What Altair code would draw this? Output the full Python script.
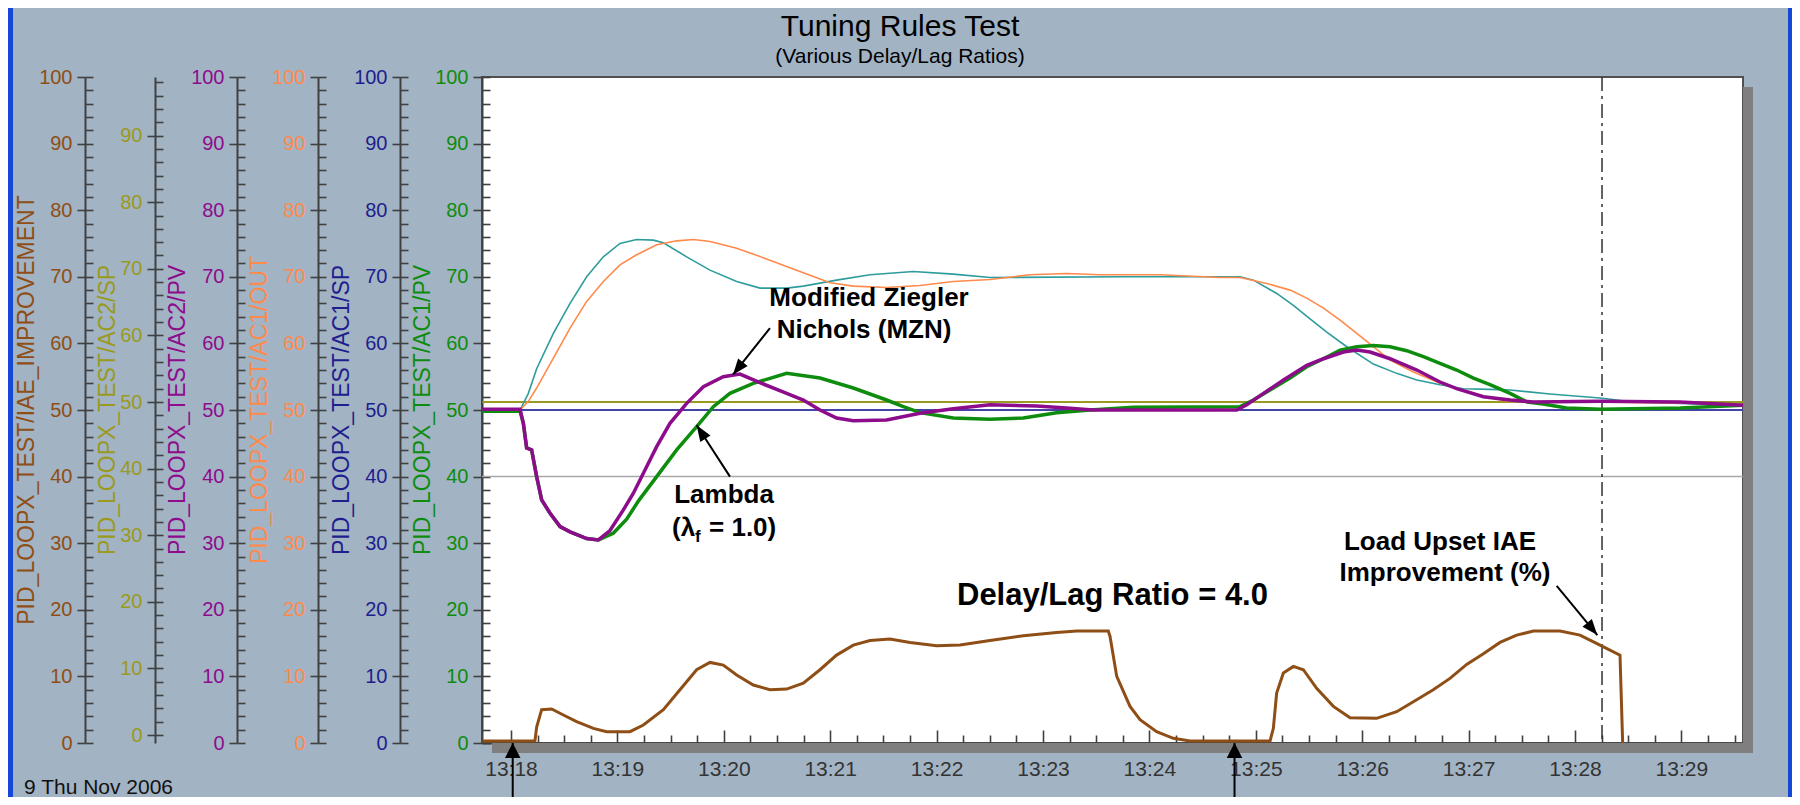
import math
import altair as alt
import pandas as pd

# ---------------- data (time = minutes after 13:18:00, value in %) ----------------
GREEN_T = [-0.27, 0.085, 0.116, 0.147, 0.194, 0.241, 0.288, 0.367, 0.461, 0.555, 0.711, 0.821, 0.961, 1.087, 1.20,
           1.369, 1.557, 1.745, 1.902, 2.058, 2.277, 2.591, 2.904, 3.217, 3.530, 3.687, 3.844, 4.157, 4.502, 4.815,
           5.128, 5.442, 5.850, 6.852, 6.978, 7.134, 7.322, 7.479, 7.636, 7.792, 7.949, 8.105, 8.262, 8.418, 8.575,
           8.731, 8.888, 9.045, 9.201, 9.39, 9.55, 9.70, 9.92, 10.24, 10.99, 11.58]
GREEN_V = [49.8, 49.8, 48.0, 44.3, 44.0, 40.0, 36.5, 34.5, 32.5, 31.7, 30.7, 30.5, 31.5, 33.6, 36.4,
           40.0, 44.0, 47.5, 50.5, 52.5, 54.0, 55.5, 54.8, 53.3, 51.5, 50.5, 49.6, 48.8, 48.6, 48.8,
           49.6, 50.0, 50.4, 50.5, 51.5, 53.0, 54.8, 56.5, 57.7, 59.0, 59.5, 59.7, 59.5, 58.9, 58.0,
           57.0, 56.0, 54.8, 53.8, 52.5, 51.2, 50.9, 50.3, 50.1, 50.3, 50.7]

PURPLE_T = [-0.27, 0.085, 0.116, 0.147, 0.194, 0.241, 0.288, 0.367, 0.461, 0.555, 0.711, 0.821, 0.930, 1.056, 1.150,
            1.244, 1.369, 1.494, 1.651, 1.808, 1.995, 2.152, 2.340, 2.591, 2.747, 2.904, 3.060, 3.217, 3.530, 3.844,
            4.157, 4.502, 4.940, 5.222, 5.473, 6.821, 6.915, 7.072, 7.260, 7.479, 7.636, 7.824, 7.949, 8.074, 8.262,
            8.513, 8.731, 8.888, 9.139, 9.390, 9.609, 10.235, 10.987, 11.58]
PURPLE_V = [50.1, 50.1, 48.0, 44.3, 44.0, 40.0, 36.5, 34.5, 32.5, 31.7, 30.7, 30.5, 31.9, 35.0, 37.5,
            40.5, 44.5, 48.0, 51.0, 53.5, 55.0, 55.4, 54.1, 52.5, 51.5, 50.0, 48.8, 48.4, 48.5, 49.5,
            50.2, 50.8, 50.6, 50.3, 50.0, 50.0, 50.8, 52.5, 54.5, 56.7, 57.7, 58.7, 59.0, 58.7, 57.7,
            56.0, 54.2, 53.2, 52.0, 51.5, 51.2, 51.3, 51.2, 50.7]

ORANGE_T = [-0.27, 0.085, 0.163, 0.241, 0.398, 0.555, 0.711, 0.868, 1.024, 1.181, 1.369, 1.557, 1.714, 1.870, 2.121,
            2.434, 2.747, 2.998, 3.217, 3.530, 3.844, 4.157, 4.502, 4.877, 5.222, 5.536, 6.100, 6.664, 6.852, 7.103,
            7.322, 7.479, 7.636, 7.792, 7.949, 8.105, 8.262, 8.481, 8.731, 8.951, 9.201, 9.390, 10.235, 11.58]
ORANGE_V = [50.0, 50.0, 51.3, 53.3, 57.8, 62.3, 66.3, 69.3, 71.8, 73.3, 74.8, 75.4, 75.6, 75.3, 74.3,
            72.5, 70.6, 69.1, 68.6, 68.4, 68.7, 69.3, 69.6, 70.3, 70.5, 70.3, 70.3, 69.9, 69.9, 69.0,
            68.0, 66.8, 65.3, 63.5, 61.5, 59.5, 57.5, 55.7, 54.0, 53.0, 51.8, 51.3, 51.2, 50.9]

TEAL_T = [-0.27, 0.085, 0.163, 0.241, 0.398, 0.555, 0.711, 0.868, 1.024, 1.181, 1.338, 1.432, 1.651, 1.870, 2.121,
          2.340, 2.591, 2.747, 3.060, 3.374, 3.781, 4.157, 4.502, 5.755, 6.852, 6.978, 7.197, 7.353, 7.510, 7.667,
          7.855, 8.105, 8.324, 8.513, 8.731, 8.951, 9.201, 9.390, 9.765, 10.235, 10.548, 11.58]
TEAL_V = [50.0, 50.0, 52.5, 56.2, 61.5, 66.0, 70.0, 73.0, 75.0, 75.6, 75.5, 75.1, 73.0, 71.0, 69.3,
          68.3, 68.3, 68.6, 69.5, 70.3, 70.8, 70.4, 69.9, 70.0, 70.0, 69.5, 67.5, 65.7, 63.7, 61.7,
          59.5, 56.9, 55.5, 54.5, 53.8, 53.2, 53.1, 53.0, 52.4, 51.8, 51.2, 50.7]

BROWN_T = [-0.27, 0.225, 0.241, 0.288, 0.382, 0.492, 0.617, 0.774, 0.899, 1.118, 1.244, 1.432, 1.588, 1.745, 1.870,
           1.995, 2.121, 2.277, 2.434, 2.591, 2.747, 2.904, 3.060, 3.217, 3.374, 3.562, 3.750, 4.000, 4.220, 4.502,
           4.815, 5.128, 5.316, 5.614, 5.630, 5.693, 5.818, 5.912, 6.068, 6.225, 6.382, 7.134, 7.165, 7.196, 7.259,
           7.353, 7.447, 7.572, 7.729, 7.886, 8.136, 8.324, 8.512, 8.668, 8.825, 8.982, 9.139, 9.295, 9.452, 9.609,
           9.859, 10.047, 10.235, 10.423, 10.448]
BROWN_V = [0.3, 0.3, 2.4, 5.0, 5.1, 4.2, 3.2, 2.2, 1.7, 1.7, 2.7, 5.0, 8.0, 11.0, 12.1,
           11.7, 10.2, 8.7, 8.0, 8.1, 9.0, 11.0, 13.2, 14.7, 15.4, 15.6, 15.1, 14.6, 14.7, 15.4,
           16.1, 16.6, 16.8, 16.8, 16.0, 10.0, 5.5, 3.5, 1.7, 0.7, 0.3, 0.3, 2.2, 7.5, 10.5,
           11.5, 11.0, 8.2, 5.5, 3.8, 3.7, 4.7, 6.5, 8.0, 9.7, 11.8, 13.4, 15.1, 16.2, 16.8,
           16.8, 16.2, 14.7, 13.2, 0.0]

SP_T = [-0.27, 11.58]
AC1_SP_V = [50.0, 50.0]      # navy, main scale
AC2_SP_V = [50.0, 50.0]      # olive, its own (offset) scale

CURSOR_T = [10.254]          # dash-dot cursor, 13:28:15
GRID_V = [40]

X_LABELS = list(range(0, 12))            # 13:18 ... 13:29
X_MINOR = [k * 0.25 for k in range(0, 47)]
Y_LABELS = list(range(0, 101, 10))
OLIVE_LABELS = list(range(0, 91, 10))
Y_MINOR = list(range(0, 101, 2))
OLIVE_MINOR = list(range(0, 99, 2))

ANNOT_TEXT = ["Modified Ziegler", "Nichols (MZN)", "Lambda", "Load Upset IAE", "Improvement (%)"]
ANNOT_T = [3.365, 3.318, 2.002, 8.731, 8.778]
ANNOT_V = [66.8, 62.0, 37.2, 30.2, 25.5]

ARROW_T_TAIL = [2.434, 2.058, 9.828]
ARROW_V_TAIL = [62.3, 40.0, 23.6]
ARROW_T_TIP = [2.086, 1.745, 10.21]
ARROW_V_TIP = [55.3, 47.7, 16.2]
EVENT_T = [0.016, 6.80]      # upset markers below the time axis

# ---------------- layout / style ----------------
W, H = 1261, 666
XMIN, XMAX = -0.2726, 11.579
FONT = "Liberation Sans, Arial, sans-serif"
BG = "#A2B3C4"
AX = "#404040"
BROWN_C, OLIVE_C, PURPLE_C = "#8E4E16", "#9A9A20", "#8C0C8C"
ORANGE_C, NAVY_C, GREEN_C = "#FF8A4C", "#1E1E8E", "#0E8C0E"
NAVY_LINE, TEAL_C = "#4444A8", "#2E9C9C"

XS = alt.Scale(domain=[XMIN, XMAX], nice=False, zero=False)
YS = alt.Scale(domain=[0, 100], nice=False, zero=False)
OLIVE_S = alt.Scale(domain=[-1.2, 98.8], nice=False, zero=False)
ONE = pd.DataFrame({"v": [50.0], "t": [5.0]})


def frame(ts, vs):
    return pd.DataFrame(list(zip(ts, vs)), columns=["t", "v"])


def X():
    return alt.X("t:Q", scale=XS, axis=None)


def Y(scale=YS):
    return alt.Y("v:Q", scale=scale, axis=None)


def line(ts, vs, color, width, scale=YS):
    return alt.Chart(frame(ts, vs)).mark_line(color=color, strokeWidth=width).encode(x=X(), y=Y(scale))


def label(text, x, y, size, color="black", angle=0, weight="normal", align="center", baseline="middle"):
    return alt.Chart(ONE).mark_text(text=text, font=FONT, fontSize=size, fontWeight=weight, color=color,
                                    angle=angle, align=align, baseline=baseline).encode(
        x=alt.value(x), y=alt.value(y))


layers = []

# frame shadow
layers.append(alt.Chart(ONE).mark_rect(color="#7F7F7F").encode(
    x=alt.value(W), x2=alt.value(W + 10), y=alt.value(10), y2=alt.value(H + 10)))
layers.append(alt.Chart(ONE).mark_rect(color="#7F7F7F").encode(
    x=alt.value(10), x2=alt.value(W + 10), y=alt.value(H), y2=alt.value(H + 10)))
# window borders
layers.append(alt.Chart(ONE).mark_rect(color="#1446D8").encode(
    x=alt.value(-474), x2=alt.value(-469), y=alt.value(-69), y2=alt.value(H + 54)))
layers.append(alt.Chart(ONE).mark_rect(color="#1446D8").encode(
    x=alt.value(W + 45), x2=alt.value(W + 49), y=alt.value(-69), y2=alt.value(H + 54)))

# grid line at 40 and cursor
layers.append(alt.Chart(pd.DataFrame({"v": GRID_V})).mark_rule(color="#A8A8A8", strokeWidth=1.5).encode(y=Y()))
layers.append(alt.Chart(pd.DataFrame({"t": CURSOR_T})).mark_rule(
    color="#303030", strokeWidth=1.5, strokeDash=[14, 5, 3, 5]).encode(x=X()))

# set points
layers.append(line(SP_T, AC1_SP_V, NAVY_LINE, 2))
layers.append(line(SP_T, AC2_SP_V, OLIVE_C, 2, OLIVE_S))
# outputs
layers.append(line(TEAL_T, TEAL_V, TEAL_C, 1.6))
layers.append(line(ORANGE_T, ORANGE_V, ORANGE_C, 1.6))
# process variables
layers.append(line(GREEN_T, GREEN_V, GREEN_C, 3.5))
layers.append(line(PURPLE_T, PURPLE_V, PURPLE_C, 3.5))
# IAE improvement
layers.append(line(BROWN_T, BROWN_V, BROWN_C, 3))

# annotations
ann = pd.DataFrame({"t": ANNOT_T, "v": ANNOT_V, "txt": ANNOT_TEXT})
layers.append(alt.Chart(ann).mark_text(font=FONT, fontSize=26, fontWeight="bold", color="black",
                                       align="center", baseline="middle").encode(x=X(), y=Y(), text="txt:N"))
lam = pd.DataFrame({"t": [1.513], "v": [32.3]})
layers.append(alt.Chart(lam).mark_text(text="(λ", font=FONT, fontSize=26, fontWeight="bold", color="black",
                                       align="left", baseline="middle").encode(x=X(), y=Y()))
layers.append(alt.Chart(pd.DataFrame({"t": [1.729], "v": [30.9]})).mark_text(
    text="f", font=FONT, fontSize=17, fontWeight="bold", color="black", align="left", baseline="middle").encode(
    x=X(), y=Y()))
layers.append(alt.Chart(pd.DataFrame({"t": [1.861], "v": [32.3]})).mark_text(
    text="= 1.0)", font=FONT, fontSize=26, fontWeight="bold", color="black", align="left",
    baseline="middle").encode(x=X(), y=Y()))
layers.append(alt.Chart(pd.DataFrame({"t": [5.653], "v": [22.0]})).mark_text(
    text="Delay/Lag Ratio = 4.0", font=FONT, fontSize=31, fontWeight="bold", color="black", align="center",
    baseline="middle").encode(x=X(), y=Y()))

# arrows
PXM = W / (XMAX - XMIN)
PXU = H / 100.0


def heading(t0, v0, t1, v1):
    dx = (t1 - t0) * PXM
    dy = -(v1 - v0) * PXU
    return math.degrees(math.atan2(dx, -dy)) % 360


arr = pd.DataFrame({"t": ARROW_T_TAIL, "v": ARROW_V_TAIL, "t2": ARROW_T_TIP, "v2": ARROW_V_TIP})
layers.append(alt.Chart(arr).mark_rule(color="black", strokeWidth=2).encode(
    x=X(), y=Y(), x2="t2:Q", y2="v2:Q"))
heads = pd.DataFrame({"t": ARROW_T_TIP, "v": ARROW_V_TIP,
                      "ang": [heading(a, b, c, d) for a, b, c, d in
                              zip(ARROW_T_TAIL, ARROW_V_TAIL, ARROW_T_TIP, ARROW_V_TIP)]})
layers.append(alt.Chart(heads).mark_point(shape="M0,0 L0.38,1 L-0.38,1 Z", size=1024, filled=True,
                                         color="black", opacity=1, strokeWidth=0).encode(
    x=X(), y=Y(), angle=alt.Angle("ang:Q", scale=None)))
ev = pd.DataFrame({"t": EVENT_T, "v": [-12.0] * len(EVENT_T), "v2": [0.0] * len(EVENT_T)})
layers.append(alt.Chart(ev).mark_rule(color="black", strokeWidth=2).encode(x=X(), y=Y(), y2="v2:Q"))
layers.append(alt.Chart(ev).mark_point(shape="M0,0 L0.52,1 L-0.52,1 Z", size=900, filled=True,
                                       color="black", opacity=1, strokeWidth=0).encode(
    x=X(), y=alt.Y("v2:Q", scale=YS, axis=None)))

# value axes (left labelled axis + inner tick axis)
AXES = [
    (397, YS, Y_LABELS, Y_MINOR, BROWN_C, 8),
    (327, OLIVE_S, OLIVE_LABELS, OLIVE_MINOR, OLIVE_C, 8),
    (245, YS, Y_LABELS, Y_MINOR, PURPLE_C, 8),
    (164, YS, Y_LABELS, Y_MINOR, ORANGE_C, 8),
    (82, YS, Y_LABELS, Y_MINOR, NAVY_C, 8),
    (0, YS, Y_LABELS, Y_MINOR, GREEN_C, 9),
]
for off, sc, vals, minor, col, ts in AXES:
    layers.append(alt.Chart(ONE).mark_point(opacity=0).encode(y=alt.Y(
        "v:Q", scale=sc, title=None,
        axis=alt.Axis(orient="left", offset=off, values=vals, tickSize=ts, tickColor=AX, tickWidth=1.6,
                      domainColor=AX, domainWidth=2, labelColor=col, labelFont=FONT, labelFontSize=20,
                      labelPadding=5, grid=False, labelFlush=False))))
    layers.append(alt.Chart(ONE).mark_point(opacity=0).encode(y=alt.Y(
        "v:Q", scale=sc, title=None,
        axis=alt.Axis(orient="right", offset=-(W + off), values=minor, labels=False, domain=False,
                      tickSize=8, tickColor=AX, tickWidth=1.6, grid=False))))

# time axes
layers.append(alt.Chart(ONE).mark_point(opacity=0).encode(x=alt.X(
    "t:Q", scale=XS, title=None,
    axis=alt.Axis(orient="bottom", values=X_LABELS, labelExpr="'13:' + (18 + datum.value)", ticks=False,
                  domainColor=AX, domainWidth=2, labelColor="#333333", labelFont=FONT, labelFontSize=21,
                  labelPadding=15, labelFlush=False, grid=False))))
layers.append(alt.Chart(ONE).mark_point(opacity=0).encode(x=alt.X(
    "t:Q", scale=XS, title=None,
    axis=alt.Axis(orient="top", offset=-H, values=X_MINOR, labels=False, domain=False,
                  tickSize={"condition": {"test": "datum.value % 1 === 0", "value": 13}, "value": 8},
                  tickColor=AX, tickWidth=1.6, grid=False))))

# axis titles
for txt, x, col in [("PID_LOOPX_TEST/IAE_IMPROVEMENT", -455, BROWN_C),
                    ("PID_LOOPX_TEST/AC2/SP", -374, OLIVE_C),
                    ("PID_LOOPX_TEST/AC2/PV", -304, PURPLE_C),
                    ("PID_LOOPX_TEST/AC1/OUT", -222, ORANGE_C),
                    ("PID_LOOPX_TEST/AC1/SP", -140, NAVY_C),
                    ("PID_LOOPX_TEST/AC1/PV", -59, GREEN_C)]:
    layers.append(label(txt, x, 333, 23, col, angle=270))

# titles and date
layers.append(label("Tuning Rules Test", 418, -41, 30, baseline="alphabetic"))
layers.append(label("(Various Delay/Lag Ratios)", 418, -14, 21, baseline="alphabetic"))
layers.append(label("9 Thu Nov 2006", -458, 717, 21, "#111111", align="left", baseline="alphabetic"))

chart = alt.layer(*layers).resolve_scale(y="independent").resolve_axis(
    x="independent", y="independent").properties(
    width=W, height=H, padding={"left": 474, "top": 69, "right": 49, "bottom": 54},
    autosize=alt.AutoSizeParams(type="none"), background=BG).configure_view(
    fill="white", stroke="#505050", strokeWidth=2)

chart.save("out.html", embed_options={"renderer": "svg", "actions": False})
